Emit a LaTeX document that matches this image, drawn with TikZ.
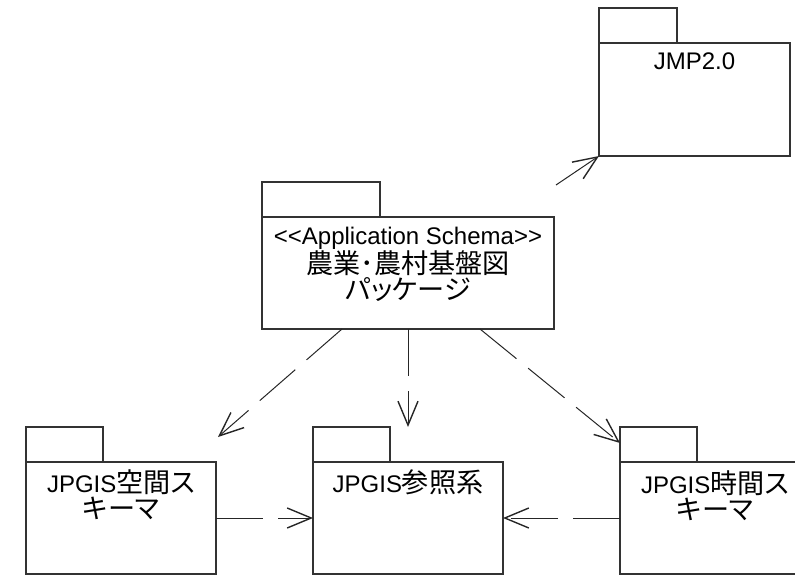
\documentclass[tikz,border=0pt]{standalone}
\usepackage{fontspec}
\setmainfont{Liberation Sans}
\newfontfamily\jp[Scale=1.13,RawFeature={+palt}]{Noto Sans CJK JP}
\usetikzlibrary{arrows.meta}
\begin{document}
\begin{tikzpicture}[x=1pt,y=-1pt,
  pkgbody/.style={draw=black!80,line width=1.1pt,minimum width=190pt,minimum height=112pt,inner sep=0pt,outer sep=0pt},
  pkgtab/.style={draw=black!80,line width=1.1pt},
  lbl/.style={align=center,inner sep=0pt,anchor=north,font=\fontsize{24}{26}\selectfont},
  dep/.style={draw=black!85,line width=1pt,dash pattern=on 47pt off 15pt,
    -{Straight Barb[length=24pt,width=20pt,line width=1.4pt]}}]
\useasboundingbox (0,0) rectangle (795,577);

% package bodies
\node[pkgbody,minimum width=191pt,minimum height=113pt] (jmp) at (694.5,99.5) {};
\node[pkgbody,minimum width=292pt] (main) at (408,273) {};
\node[pkgbody] (spatial) at (121,518) {};
\node[pkgbody] (ref) at (408,518) {};
\node[pkgbody] (temporal) at (715,518) {};

% tabs
\draw[pkgtab] (jmp.north west) rectangle ++(78,-35);
\draw[pkgtab] (main.north west) rectangle ++(118,-35);
\draw[pkgtab] (spatial.north west) rectangle ++(77,-35);
\draw[pkgtab] (ref.north west) rectangle ++(77,-35);
\draw[pkgtab] (temporal.north west) rectangle ++(77,-35);

% labels
\node[lbl] (jmpt) at ([yshift=-10pt]jmp.north) {JMP2.0};
\node[lbl] (maint) at ([yshift=-10pt]main.north) {<{}<Application Schema>{}>\\{\jp 農業･農村基盤図}\\{\jp パッケージ}};
\node[lbl] (spatialt) at ([yshift=-8pt]spatial.north) {JPGIS{\jp 空間ス}\\{\jp キーマ}};
\node[lbl] (reft) at ([yshift=-8pt]ref.north) {JPGIS{\jp 参照系}};
\node[lbl] (temporalt) at ([yshift=-8pt]temporal.north) {JPGIS{\jp 時間ス}\\{\jp キーマ}};

% free ends
\coordinate (s0) at (556,185);
\coordinate (e1) at (218,437);
\coordinate (e2) at (408,427);
\coordinate (e3) at (620,443);

% dependencies
\draw[dep,dash pattern=on 70pt off 15pt] (s0) -- (jmp.south west);
\draw[dep] ([xshift=80pt]main.south west) -- (e1);
\draw[dep] (main.south) -- (e2);
\draw[dep] ([xshift=218pt]main.south west) -- (e3);
\draw[dep] (spatial.east) -- (ref.west);
\draw[dep] (temporal.west) -- (ref.east);
\end{tikzpicture}
\end{document}
